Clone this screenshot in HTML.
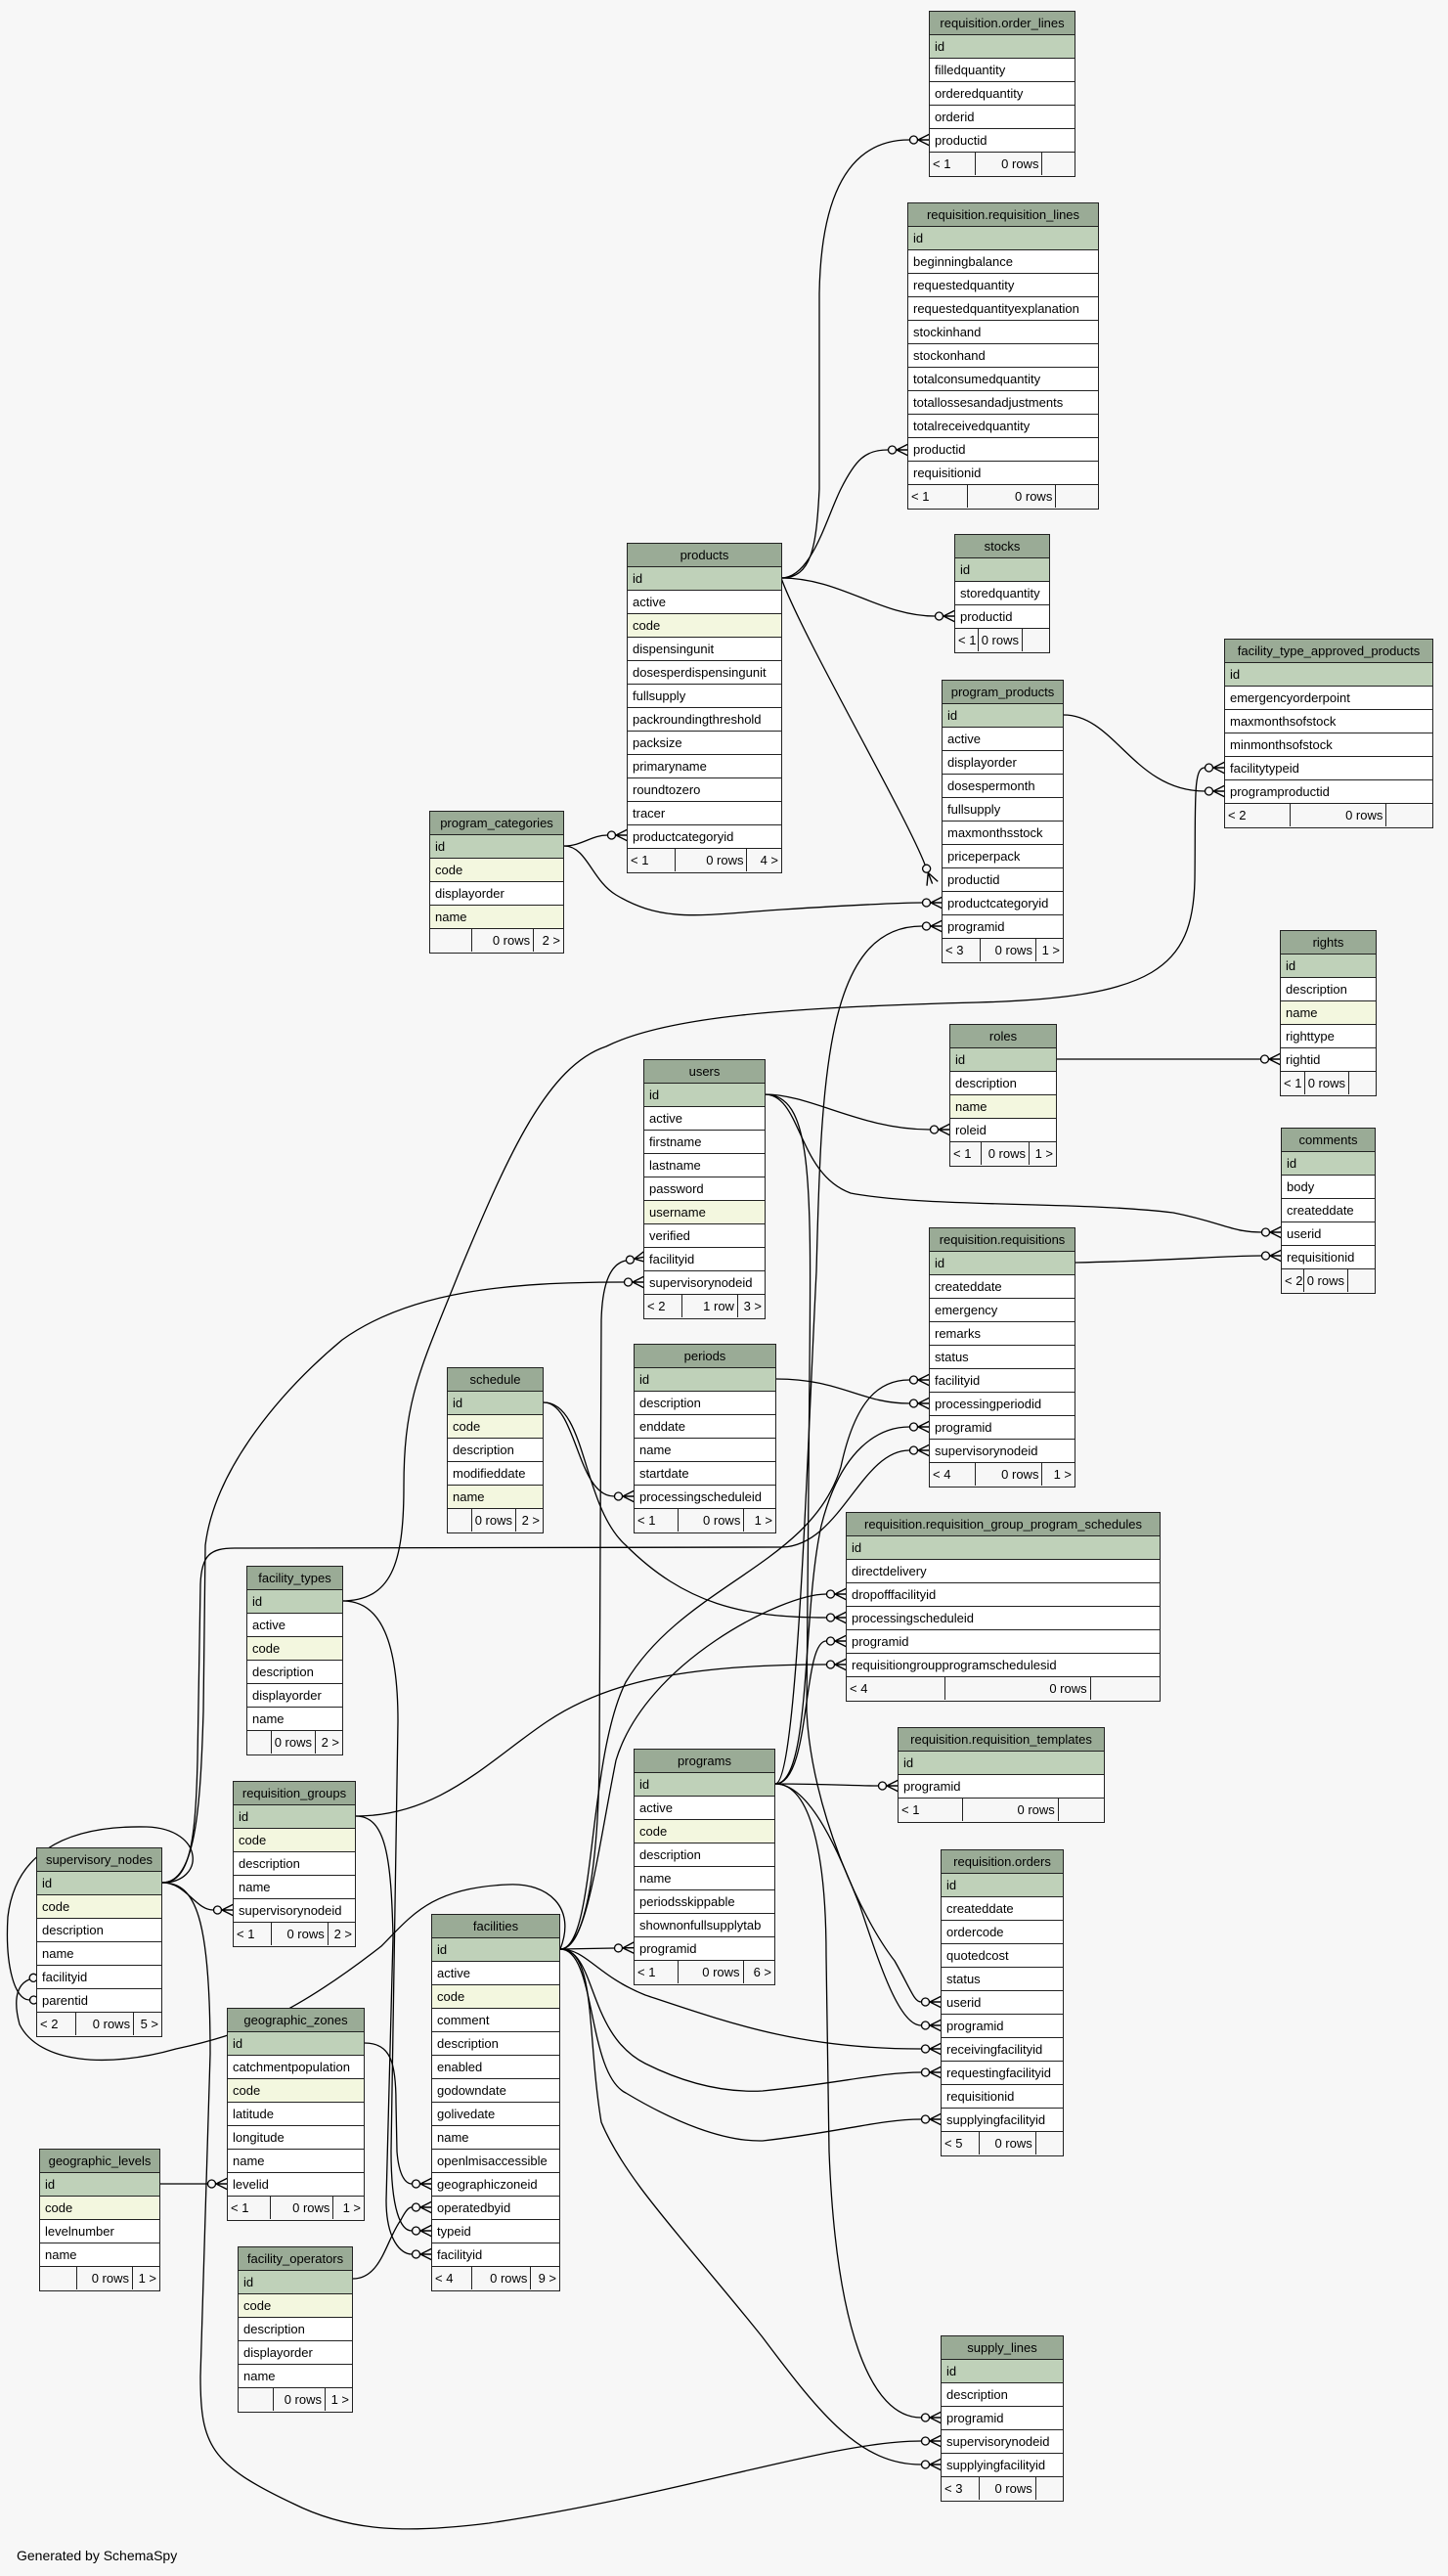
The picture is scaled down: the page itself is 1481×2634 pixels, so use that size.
<!DOCTYPE html>
<html><head><meta charset="utf-8"><style>
html,body{margin:0;padding:0;background:#f7f7f7;}
body{width:1481px;height:2634px;position:relative;overflow:hidden;font-family:"Liberation Sans",sans-serif;}
svg{position:absolute;left:0;top:0;}
.t{position:absolute;border:1px solid #222;background:#fff;font-size:13px;color:#000;}
.t>div{height:24px;line-height:23px;border-bottom:1px solid #222;box-sizing:border-box;padding-left:5px;white-space:nowrap;overflow:hidden;}
.t>.h{background:#9aab96;text-align:center;padding:0;}
.t>.k{background:#bfd1b9;}
.t>.y{background:#f3f7df;}
.t>.f{display:flex;padding:0;border-bottom:0;background:#f7f7f7;}
.f span{display:block;box-sizing:border-box;height:23px;border-right:1px solid #222;padding:0 3px;white-space:nowrap;}
.f span:nth-child(1){flex:1 1 30%;min-width:20px;}
.f span:nth-child(2){flex:1 1 45%;text-align:right;}
.f span:nth-child(3){flex:0 0 22%;min-width:27px;border-right:0;text-align:right;}
.gen{position:absolute;left:17px;top:2605px;font-size:14px;}
</style></head><body>
<svg width="1481" height="2634" viewBox="0 0 1481 2634">
<defs>
<marker id="cf" markerUnits="userSpaceOnUse" markerWidth="22" markerHeight="14" refX="0" refY="7" orient="auto" overflow="visible">
<circle cx="4.5" cy="7" r="4" fill="#f7f7f7" stroke="#000" stroke-width="1.3"/>
<path d="M9 7 L21 1 M9 7 L21 7 M9 7 L21 13" stroke="#000" stroke-width="1.4" fill="none"/>
</marker>
</defs>
<g fill="none" stroke="#000" stroke-width="1.3" marker-end="url(#cf)">
<path d="M799 591 C830 591 835 560 838 500 L838 300 C840 180 880 143 930 143"/>
<path d="M799 591 C830 591 845 530 860 500 C875 470 885 460 908 460"/>
<path d="M799 591 C860 591 900 630 956 630"/>
<path d="M799 591 C820 650 925 830 946 884"/>
<path d="M577 865 C595 865 605 854 621 854"/>
<path d="M577 865 C600 865 605 900 630 915 C680 945 720 935 800 930 C880 925 920 923 943 923"/>
<path d="M793 1824 C815 1824 825 1500 835 1300 C840 1100 845 947 943 947"/>
<path d="M1088 731 C1140 731 1160 809 1232 809"/>
<path d="M349 1637 C400 1637 413 1600 413 1520 C413 1430 430 1400 470 1300 C520 1180 560 1090 620 1070 C680 1040 800 1030 1000 1025 C1180 1020 1220 990 1222 900 C1223 820 1220 785 1232 785"/>
<path d="M1081 1083 L1289 1083"/>
<path d="M782 1119 C830 1119 880 1155 951 1155"/>
<path d="M782 1119 C820 1119 815 1200 870 1220 C950 1235 1100 1228 1200 1240 C1250 1250 1260 1260 1290 1260"/>
<path d="M1100 1291 C1200 1289 1250 1284 1290 1284"/>
<path d="M782 1119 C830 1119 830 1200 828 1400 L825 1750 C830 1850 880 1960 915 2005 C932 2035 935 2047 942 2047"/>
<path d="M794 1410 C860 1410 880 1435 930 1435"/>
<path d="M556 1434 C590 1434 590 1530 628 1530"/>
<path d="M556 1434 C600 1434 595 1540 640 1580 C700 1640 760 1654 845 1654"/>
<path d="M573 1993 C610 1993 600 1800 640 1720 C700 1620 830 1600 860 1500 C875 1430 900 1411 930 1411"/>
<path d="M793 1824 C830 1824 820 1650 840 1560 C860 1480 900 1459 930 1459"/>
<path d="M166 1925 C195 1925 200 1880 202 1800 L205 1620 C206 1590 215 1583 240 1583 L800 1582 C860 1580 880 1483 930 1483"/>
<path d="M166 1925 C200 1925 205 1850 208 1750 L210 1580 C220 1500 290 1420 350 1370 C420 1320 520 1311 638 1311"/>
<path d="M573 1993 C600 1993 612 1900 613 1800 L615 1350 C616 1310 625 1292 640 1289"/>
<path d="M573 1993 C600 1993 610 1900 630 1800 C660 1700 800 1630 845 1630"/>
<path d="M793 1824 C830 1824 820 1678 845 1678"/>
<path d="M364 1857 C450 1857 500 1800 560 1760 C620 1720 700 1702 845 1702"/>
<path d="M793 1824 C850 1824 870 1826 898 1826"/>
<path d="M166 1925 C190 1925 200 1953 218 1953"/>
<path d="M573 1993 C590 1950 560 1925 520 1927 C440 1930 420 1960 390 1990 C300 2060 250 2080 180 2095 C110 2115 40 2110 20 2070 C12 2040 20 2028 30 2024"/>
<path d="M166 1925 C210 1925 210 1870 150 1868 C60 1866 15 1900 8 1960 C5 2010 15 2045 30 2045"/>
<path d="M573 1993 L628 1992"/>
<path d="M793 1824 C830 1824 860 1900 880 1950 C900 2010 920 2071 942 2071"/>
<path d="M573 1993 C600 1993 610 2020 660 2040 C750 2070 820 2095 942 2095"/>
<path d="M573 1993 C610 1993 600 2080 660 2110 C700 2130 740 2140 780 2138 C860 2130 900 2119 942 2119"/>
<path d="M573 1993 C610 1993 600 2120 640 2140 C690 2170 740 2190 780 2189 C860 2180 900 2167 942 2167"/>
<path d="M164 2233 L212 2233"/>
<path d="M373 2089 C400 2089 405 2110 405 2150 L406 2200 C408 2225 415 2233 421 2233"/>
<path d="M361 2330 C390 2330 395 2290 410 2270 C415 2260 418 2257 421 2257"/>
<path d="M351 1637 C390 1637 407 1680 407 1760 L400 2200 C400 2260 410 2281 421 2281"/>
<path d="M364 1857 C395 1857 400 1900 402 1980 L395 2250 C395 2290 410 2305 421 2305"/>
<path d="M793 1824 C830 1824 845 1900 845 2000 L848 2200 C855 2380 890 2472 942 2472"/>
<path d="M166 1925 C200 1925 215 1960 215 2100 L205 2430 C205 2500 215 2520 300 2560 C360 2590 420 2590 500 2580 C700 2550 850 2496 942 2496"/>
<path d="M573 1993 C610 1993 600 2080 615 2170 C640 2230 700 2290 780 2390 C840 2470 880 2520 942 2520"/>
</g>
</svg>

<div class="t" style="left:950px;top:11px;width:148px"><div class="h">requisition.order_lines</div><div class="k">id</div><div>filledquantity</div><div>orderedquantity</div><div>orderid</div><div>productid</div><div class="f"><span>&lt; 1</span><span>0 rows</span><span></span></div></div>

<div class="t" style="left:928px;top:207px;width:194px"><div class="h">requisition.requisition_lines</div><div class="k">id</div><div>beginningbalance</div><div>requestedquantity</div><div>requestedquantityexplanation</div><div>stockinhand</div><div>stockonhand</div><div>totalconsumedquantity</div><div>totallossesandadjustments</div><div>totalreceivedquantity</div><div>productid</div><div>requisitionid</div><div class="f"><span>&lt; 1</span><span>0 rows</span><span></span></div></div>

<div class="t" style="left:641px;top:555px;width:157px"><div class="h">products</div><div class="k">id</div><div>active</div><div class="y">code</div><div>dispensingunit</div><div>dosesperdispensingunit</div><div>fullsupply</div><div>packroundingthreshold</div><div>packsize</div><div>primaryname</div><div>roundtozero</div><div>tracer</div><div>productcategoryid</div><div class="f"><span>&lt; 1</span><span>0 rows</span><span>4 &gt;</span></div></div>

<div class="t" style="left:976px;top:546px;width:96px"><div class="h">stocks</div><div class="k">id</div><div>storedquantity</div><div>productid</div><div class="f"><span>&lt; 1</span><span>0 rows</span><span></span></div></div>

<div class="t" style="left:1252px;top:653px;width:212px"><div class="h">facility_type_approved_products</div><div class="k">id</div><div>emergencyorderpoint</div><div>maxmonthsofstock</div><div>minmonthsofstock</div><div>facilitytypeid</div><div>programproductid</div><div class="f"><span>&lt; 2</span><span>0 rows</span><span></span></div></div>

<div class="t" style="left:963px;top:695px;width:123px"><div class="h">program_products</div><div class="k">id</div><div>active</div><div>displayorder</div><div>dosespermonth</div><div>fullsupply</div><div>maxmonthsstock</div><div>priceperpack</div><div>productid</div><div>productcategoryid</div><div>programid</div><div class="f"><span>&lt; 3</span><span>0 rows</span><span>1 &gt;</span></div></div>

<div class="t" style="left:439px;top:829px;width:136px"><div class="h">program_categories</div><div class="k">id</div><div class="y">code</div><div>displayorder</div><div class="y">name</div><div class="f"><span></span><span>0 rows</span><span>2 &gt;</span></div></div>

<div class="t" style="left:1309px;top:951px;width:97px"><div class="h">rights</div><div class="k">id</div><div>description</div><div class="y">name</div><div>righttype</div><div>rightid</div><div class="f"><span>&lt; 1</span><span>0 rows</span><span></span></div></div>

<div class="t" style="left:971px;top:1047px;width:108px"><div class="h">roles</div><div class="k">id</div><div>description</div><div class="y">name</div><div>roleid</div><div class="f"><span>&lt; 1</span><span>0 rows</span><span>1 &gt;</span></div></div>

<div class="t" style="left:1310px;top:1153px;width:95px"><div class="h">comments</div><div class="k">id</div><div>body</div><div>createddate</div><div>userid</div><div>requisitionid</div><div class="f"><span>&lt; 2</span><span>0 rows</span><span></span></div></div>

<div class="t" style="left:658px;top:1083px;width:123px"><div class="h">users</div><div class="k">id</div><div>active</div><div>firstname</div><div>lastname</div><div>password</div><div class="y">username</div><div>verified</div><div>facilityid</div><div>supervisorynodeid</div><div class="f"><span>&lt; 2</span><span>1 row</span><span>3 &gt;</span></div></div>

<div class="t" style="left:950px;top:1255px;width:148px"><div class="h">requisition.requisitions</div><div class="k">id</div><div>createddate</div><div>emergency</div><div>remarks</div><div>status</div><div>facilityid</div><div>processingperiodid</div><div>programid</div><div>supervisorynodeid</div><div class="f"><span>&lt; 4</span><span>0 rows</span><span>1 &gt;</span></div></div>

<div class="t" style="left:648px;top:1374px;width:144px"><div class="h">periods</div><div class="k">id</div><div>description</div><div>enddate</div><div>name</div><div>startdate</div><div>processingscheduleid</div><div class="f"><span>&lt; 1</span><span>0 rows</span><span>1 &gt;</span></div></div>

<div class="t" style="left:457px;top:1398px;width:97px"><div class="h">schedule</div><div class="k">id</div><div class="y">code</div><div>description</div><div>modifieddate</div><div class="y">name</div><div class="f"><span></span><span>0 rows</span><span>2 &gt;</span></div></div>

<div class="t" style="left:865px;top:1546px;width:320px"><div class="h">requisition.requisition_group_program_schedules</div><div class="k">id</div><div>directdelivery</div><div>dropofffacilityid</div><div>processingscheduleid</div><div>programid</div><div>requisitiongroupprogramschedulesid</div><div class="f"><span>&lt; 4</span><span>0 rows</span><span></span></div></div>

<div class="t" style="left:252px;top:1601px;width:97px"><div class="h">facility_types</div><div class="k">id</div><div>active</div><div class="y">code</div><div>description</div><div>displayorder</div><div>name</div><div class="f"><span></span><span>0 rows</span><span>2 &gt;</span></div></div>

<div class="t" style="left:918px;top:1766px;width:210px"><div class="h">requisition.requisition_templates</div><div class="k">id</div><div>programid</div><div class="f"><span>&lt; 1</span><span>0 rows</span><span></span></div></div>

<div class="t" style="left:648px;top:1788px;width:143px"><div class="h">programs</div><div class="k">id</div><div>active</div><div class="y">code</div><div>description</div><div>name</div><div>periodsskippable</div><div>shownonfullsupplytab</div><div>programid</div><div class="f"><span>&lt; 1</span><span>0 rows</span><span>6 &gt;</span></div></div>

<div class="t" style="left:238px;top:1821px;width:124px"><div class="h">requisition_groups</div><div class="k">id</div><div class="y">code</div><div>description</div><div>name</div><div>supervisorynodeid</div><div class="f"><span>&lt; 1</span><span>0 rows</span><span>2 &gt;</span></div></div>

<div class="t" style="left:37px;top:1889px;width:127px"><div class="h">supervisory_nodes</div><div class="k">id</div><div class="y">code</div><div>description</div><div>name</div><div>facilityid</div><div>parentid</div><div class="f"><span>&lt; 2</span><span>0 rows</span><span>5 &gt;</span></div></div>

<div class="t" style="left:962px;top:1891px;width:124px"><div class="h">requisition.orders</div><div class="k">id</div><div>createddate</div><div>ordercode</div><div>quotedcost</div><div>status</div><div>userid</div><div>programid</div><div>receivingfacilityid</div><div>requestingfacilityid</div><div>requisitionid</div><div>supplyingfacilityid</div><div class="f"><span>&lt; 5</span><span>0 rows</span><span></span></div></div>

<div class="t" style="left:441px;top:1957px;width:130px"><div class="h">facilities</div><div class="k">id</div><div>active</div><div class="y">code</div><div>comment</div><div>description</div><div>enabled</div><div>godowndate</div><div>golivedate</div><div>name</div><div>openlmisaccessible</div><div>geographiczoneid</div><div>operatedbyid</div><div>typeid</div><div>facilityid</div><div class="f"><span>&lt; 4</span><span>0 rows</span><span>9 &gt;</span></div></div>

<div class="t" style="left:232px;top:2053px;width:139px"><div class="h">geographic_zones</div><div class="k">id</div><div>catchmentpopulation</div><div class="y">code</div><div>latitude</div><div>longitude</div><div>name</div><div>levelid</div><div class="f"><span>&lt; 1</span><span>0 rows</span><span>1 &gt;</span></div></div>

<div class="t" style="left:40px;top:2197px;width:122px"><div class="h">geographic_levels</div><div class="k">id</div><div class="y">code</div><div>levelnumber</div><div>name</div><div class="f"><span></span><span>0 rows</span><span>1 &gt;</span></div></div>

<div class="t" style="left:243px;top:2297px;width:116px"><div class="h">facility_operators</div><div class="k">id</div><div class="y">code</div><div>description</div><div>displayorder</div><div>name</div><div class="f"><span></span><span>0 rows</span><span>1 &gt;</span></div></div>

<div class="t" style="left:962px;top:2388px;width:124px"><div class="h">supply_lines</div><div class="k">id</div><div>description</div><div>programid</div><div>supervisorynodeid</div><div>supplyingfacilityid</div><div class="f"><span>&lt; 3</span><span>0 rows</span><span></span></div></div>

<div class="gen">Generated by SchemaSpy</div>
</body></html>
